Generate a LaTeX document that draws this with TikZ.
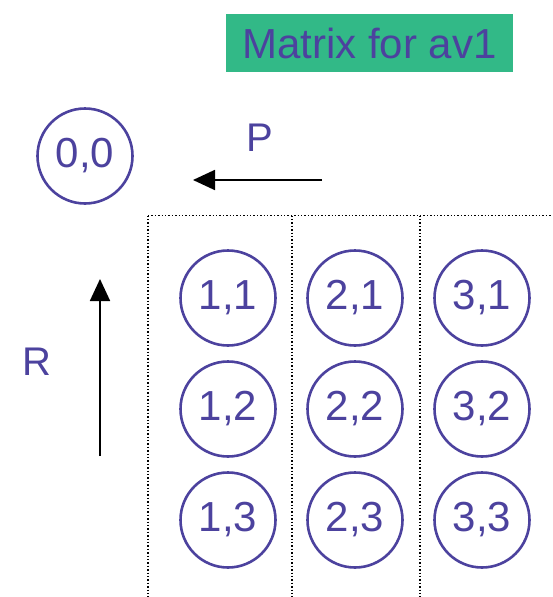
\documentclass[tikz,border=0pt]{standalone}
\usepackage{fontspec}
\setmainfont{Liberation Sans}
\usetikzlibrary{arrows.meta}

\definecolor{ink}{RGB}{76,66,158}
\definecolor{titlegreen}{RGB}{50,185,135}

\tikzset{
	cell/.style={circle,draw=ink,line width=2.6pt,minimum size=95pt,inner sep=0pt,text=ink,font=\fontsize{42}{42}\selectfont},
	axis/.style={line width=1.8pt,-{Triangle[length=22pt,width=20pt]}},
	grid/.style={dotted,line width=1.4pt},
	lbl/.style={text=ink,font=\fontsize{40}{40}\selectfont}
}

\begin{document}
\begin{tikzpicture}[x=1pt,y=-1pt]
		\useasboundingbox (0,0) rectangle (552,597);
		% title
		\node[fill=titlegreen,text=ink,minimum width=287pt,minimum height=58pt,inner sep=0pt,font=\fontsize{42}{42}\selectfont] (title) at (369.5,43) {Matrix for av1};
		% origin
		\node[cell] (c00) at (85,156) {0,0};
		% direction arrows
		\coordinate (pstart) at (322,180);
		\coordinate (pend) at (193,180);
		\draw[axis] (pstart) -- (pend);
		\node[lbl] (plbl) at (260,138) {P};
		\coordinate (rstart) at (100,456);
		\coordinate (rend) at (100,279);
		\draw[axis] (rstart) -- (rend);
		\node[lbl] (rlbl) at (37,362) {R};
		% dotted columns
		\draw[grid] (148,215.5) -- (552,215.5);
		\draw[grid] (148,215.5) -- (148,597);
		\draw[grid] (292,215.5) -- (292,597);
		\draw[grid] (420,215.5) -- (420,597);
		% cells
		\node[cell] (c11) at (228,298) {1,1};
		\node[cell] (c21) at (355,298) {2,1};
		\node[cell] (c31) at (482,298) {3,1};
		\node[cell] (c12) at (228,409) {1,2};
		\node[cell] (c22) at (355,409) {2,2};
		\node[cell] (c32) at (482,409) {3,2};
		\node[cell] (c13) at (228,520) {1,3};
		\node[cell] (c23) at (355,520) {2,3};
		\node[cell] (c33) at (482,520) {3,3};
\end{tikzpicture}
\end{document}
